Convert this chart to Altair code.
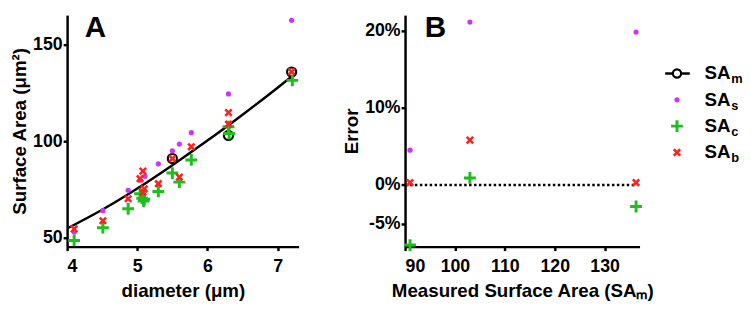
import altair as alt
import pandas as pd

FONT = "Liberation Sans"
MAG = "#CC33FF"
GRN = "#1DBF1D"
RED = "#FF2020"

# ---------------- Panel A data ----------------
sas_d = [4.10, 4.51, 4.87, 5.04, 5.11, 5.30, 5.50, 5.60, 5.77, 6.30, 7.20]
sas_v = [53.0, 64.0, 74.6, 79.8, 81.8, 88.3, 95.0, 98.5, 104.4, 124.5, 162.6]
sab_d = [4.10, 4.51, 4.87, 5.04, 5.08, 5.10, 5.08, 5.30, 5.50, 5.60, 5.77, 6.30, 6.30, 7.20]
sab_v = [54.6, 58.8, 70.2, 80.6, 84.5, 75.3, 73.5, 78.0, 91.0, 81.4, 97.1, 114.8, 108.8, 136.0]
sac_d = [4.10, 4.51, 4.87, 5.04, 5.07, 5.09, 5.10, 5.30, 5.50, 5.60, 5.77, 6.30, 6.31, 7.21]
sac_v = [48.6, 55.2, 65.0, 72.8, 70.5, 69.0, 70.0, 74.0, 83.5, 78.8, 90.3, 107.5, 104.0, 131.5]
sam_d = [5.50, 6.30, 7.20]
sam_v = [91.0, 103.0, 135.8]
fit_d = [4.0, 4.5, 5.0, 5.5, 6.0, 6.5, 7.0, 7.2]
fit_v = [54.8, 64.5, 75.5, 87.6, 100.3, 113.7, 127.7, 133.5]

# ---------------- Panel B data ----------------
b_x = [91.0, 103.0, 136.3]
err_s = [4.5, 21.1, 19.8]
err_c = [-7.8, 0.9, -2.8]
err_b = [0.3, 5.8, 0.3]

# ---------------- legend ----------------
leg_sub = ["m", "s", "c", "b"]
leg_row = [0, 1, 2, 3]

XA_DOM = [4, 7.3]
YA_DOM = [45.4, 165.3]
XB_DOM = [90, 137]
YB_DOM = [-8, 22]

PLUS = "M-1,0H1M0,-1V1"
XSHAPE = "M-1,-1L1,1M-1,1L1,-1"

# ---------------- Panel A ----------------
xA = alt.X("d:Q", scale=alt.Scale(domain=XA_DOM, nice=False, zero=False),
           axis=alt.Axis(values=[4, 5, 6, 7], format="d", title="diameter (μm)",
                         labelPadding=7, titlePadding=7))
yA = alt.Y("v:Q", scale=alt.Scale(domain=YA_DOM, nice=False, zero=False),
           axis=alt.Axis(values=[50, 100, 150], title="Surface Area (μm²)"))

fit = alt.Chart(pd.DataFrame({"d": fit_d, "v": fit_v})).mark_line(
    color="black", strokeWidth=2.5, interpolate="monotone").encode(x=xA, y=yA)
circ = alt.Chart(pd.DataFrame({"d": sam_d, "v": sam_v})).mark_point(
    shape="circle", filled=False, color="black", strokeWidth=2.2, size=85, opacity=1).encode(x=xA, y=yA)
ps = alt.Chart(pd.DataFrame({"d": sas_d, "v": sas_v})).mark_point(
    shape="circle", filled=True, color=MAG, size=28, opacity=1).encode(x=xA, y=yA)
pc = alt.Chart(pd.DataFrame({"d": sac_d, "v": sac_v})).mark_point(
    shape=PLUS, filled=False, color=GRN, strokeWidth=3, size=144, opacity=1).encode(x=xA, y=yA)
pb = alt.Chart(pd.DataFrame({"d": sab_d, "v": sab_v})).mark_point(
    shape=XSHAPE, filled=False, color=RED, strokeWidth=2.6, size=42, opacity=1).encode(x=xA, y=yA)
labA = alt.Chart(pd.DataFrame({"d": [XA_DOM[0]], "v": [YA_DOM[1]], "t": ["A"]})).mark_text(
    align="left", baseline="alphabetic", font=FONT, fontWeight="bold", fontSize=30,
    color="black", dx=18, dy=22).encode(x=xA, y=yA, text="t:N")

panelA = alt.layer(fit, circ, ps, pc, pb, labA).properties(width=235, height=235)

# ---------------- Panel B ----------------
xB = alt.X("m:Q", scale=alt.Scale(domain=XB_DOM, nice=False, zero=False),
           axis=alt.Axis(values=[90, 100, 110, 120, 130], title="Measured Surface Area (SAₘ)",
                         labelPadding=7, titlePadding=7))
yB = alt.Y("e:Q", scale=alt.Scale(domain=YB_DOM, nice=False, zero=False),
           axis=alt.Axis(values=[-5, 0, 10, 20], labelExpr="datum.value + '%'", title="Error"))

zero_df = pd.DataFrame({"m": [float(XB_DOM[0])], "m2": [max(b_x)], "e": [0.0]})
zline = alt.Chart(zero_df).mark_rule(color="black", strokeWidth=2.5, strokeDash=[2.5, 2.5]).encode(
    x=xB, x2="m2:Q", y=yB)
bs = alt.Chart(pd.DataFrame({"m": b_x, "e": err_s})).mark_point(
    shape="circle", filled=True, color=MAG, size=28, opacity=1).encode(x=xB, y=yB)
bc = alt.Chart(pd.DataFrame({"m": b_x, "e": err_c})).mark_point(
    shape=PLUS, filled=False, color=GRN, strokeWidth=3, size=144, opacity=1).encode(x=xB, y=yB)
bb = alt.Chart(pd.DataFrame({"m": b_x, "e": err_b})).mark_point(
    shape=XSHAPE, filled=False, color=RED, strokeWidth=2.6, size=42, opacity=1).encode(x=xB, y=yB)
labB = alt.Chart(pd.DataFrame({"m": [float(XB_DOM[0])], "e": [float(YB_DOM[1])], "t": ["B"]})).mark_text(
    align="left", baseline="alphabetic", font=FONT, fontWeight="bold", fontSize=30,
    color="black", dx=20, dy=22).encode(x=xB, y=yB, text="t:N")

mainB = alt.layer(zline, bs, bc, bb, labB)

# legend (drawn to the right of panel B)
yL = alt.Y("row:Q", scale=alt.Scale(domain=[-2.22, 6.58], reverse=True, nice=False, zero=False), axis=None)
leg_df = pd.DataFrame({"row": leg_row, "sub": leg_sub, "lab": ["SA"] * 4})
SX = 276
l_rule = alt.Chart(leg_df[leg_df.row == 0]).mark_rule(color="black", strokeWidth=2.5).encode(
    x=alt.value(SX - 12), x2=alt.value(SX + 13), y=yL)
l_circ = alt.Chart(leg_df[leg_df.row == 0]).mark_point(
    shape="circle", filled=False, color="black", fill="white", strokeWidth=2.2, size=70, opacity=1).encode(x=alt.value(SX), y=yL)
l_s = alt.Chart(leg_df[leg_df.row == 1]).mark_point(
    shape="circle", filled=True, color=MAG, size=28, opacity=1).encode(x=alt.value(SX), y=yL)
l_c = alt.Chart(leg_df[leg_df.row == 2]).mark_point(
    shape=PLUS, filled=False, color=GRN, strokeWidth=3, size=144, opacity=1).encode(x=alt.value(SX), y=yL)
l_b = alt.Chart(leg_df[leg_df.row == 3]).mark_point(
    shape=XSHAPE, filled=False, color=RED, strokeWidth=2.6, size=42, opacity=1).encode(x=alt.value(SX), y=yL)
l_txt = alt.Chart(leg_df).mark_text(align="left", baseline="middle", font=FONT, fontWeight="bold",
                                    fontSize=19, color="black").encode(
    x=alt.value(SX + 28), y=yL, text="lab:N")
l_sub = alt.Chart(leg_df).mark_text(align="left", baseline="middle", font=FONT, fontWeight="bold",
                                    fontSize=13, color="black", dy=6).encode(
    x=alt.value(SX + 55), y=yL, text="sub:N")
legend = alt.layer(l_rule, l_circ, l_s, l_c, l_b, l_txt, l_sub)

panelB = alt.layer(mainB, legend).resolve_scale(x="independent", y="independent").properties(
    width=238, height=235)

chart = alt.hconcat(panelA, panelB, spacing=38).properties(
    padding={"left": 2, "top": 3, "right": 0, "bottom": 0}
).configure_view(stroke=None).configure_axis(
    domainColor="black", domainWidth=2.5, tickColor="black", tickWidth=2.5, tickSize=4,
    labelFont=FONT, labelFontWeight="bold", labelFontSize=18, labelColor="black", labelPadding=1,
    titleFont=FONT, titleFontWeight="bold", titleFontSize=19, titleColor="black", titlePadding=3,
    grid=False
)

chart.save("out.html", embed_options={"renderer": "svg", "actions": False})
